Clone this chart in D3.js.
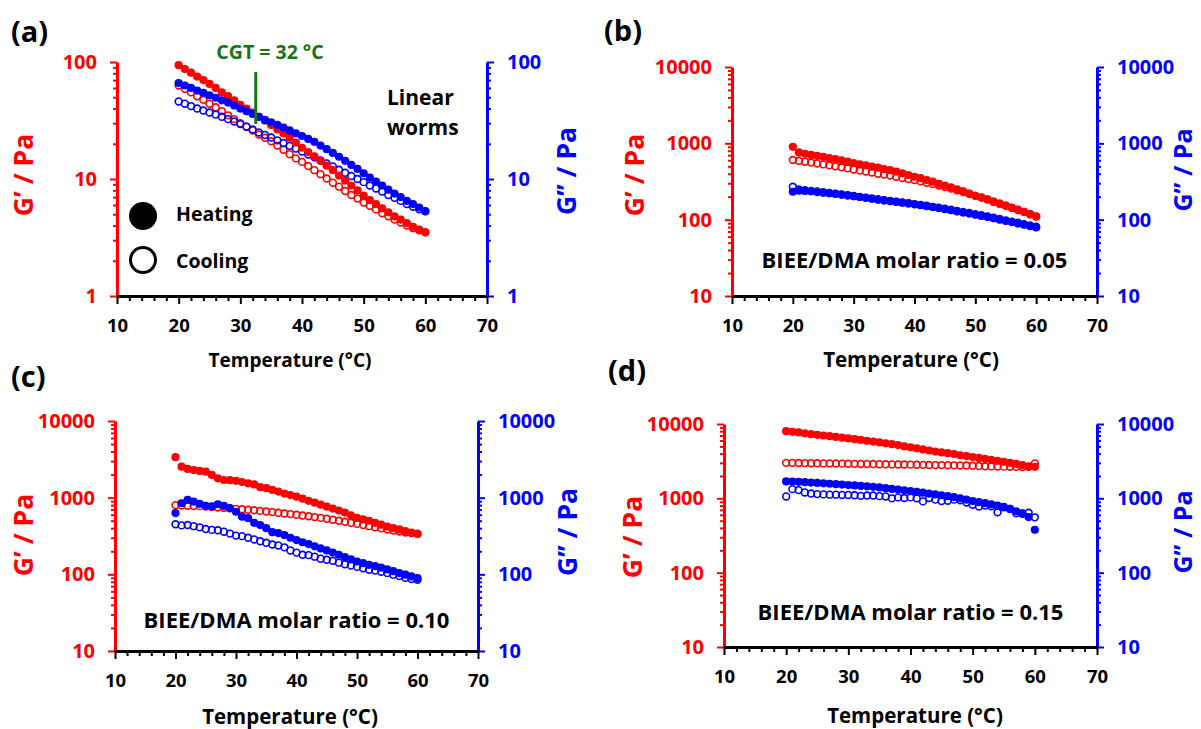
<!DOCTYPE html>
<html>
<head>
<meta charset="utf-8">
<script src="https://cdn.jsdelivr.net/npm/d3@7"></script>
<style>
  body { margin: 0; background: #fff; }
  text { font-family: "Open Sans", sans-serif; font-weight: 700; }
</style>
</head>
<body>
<div id="chart"></div>
<script>
const temps = [20, 21, 22, 23, 24, 25, 26, 27, 28, 29,
  30, 31, 32, 33, 34, 35, 36, 37, 38, 39,
  40, 41, 42, 43, 44, 45, 46, 47, 48, 49,
  50, 51, 52, 53, 54, 55, 56, 57, 58, 59, 60];

const xTicks = [10, 20, 30, 40, 50, 60, 70];
const aYTicks = [1, 10, 100];
const yTicks = [10, 100, 1000, 10000];
const cgt = 32.5;

// (a) linear worms
const aHeatG1 = [94, 87, 81, 75, 70, 65, 60, 55, 51, 47,
  43, 40, 37, 34, 31.5, 29, 26.5, 24.5, 22.5, 20.5,
  18.5, 17, 15.6, 14.3, 13, 11.9, 10.7, 9.7, 8.8, 8.0,
  7.2, 6.6, 6.1, 5.6, 5.2, 4.8, 4.5, 4.2, 3.9, 3.7, 3.5];
const aCoolG1 = [63, 59, 55, 51, 47.5, 44, 41, 38, 35, 32.5,
  30, 28, 26, 24, 22.5, 21, 19.3, 17.8, 16.3, 15,
  14, 12.9, 11.9, 11, 10.1, 9.3, 8.6, 7.9, 7.3, 6.8,
  6.3, 5.9, 5.5, 5.1, 4.8, 4.5, 4.25, 4.0, 3.8, 3.65, 3.5];
const aHeatG2 = [66, 63, 60, 57, 54.5, 52, 49.5, 47, 45, 42.5,
  40, 38, 36, 34, 32, 30.5, 29, 27.5, 26, 24.5,
  23.3, 22, 20.8, 19.3, 18, 16.7, 15.5, 14.3, 13.2, 12.2,
  11.2, 10.3, 9.5, 8.8, 8.1, 7.5, 7.0, 6.5, 6.1, 5.7, 5.3];
const aCoolG2 = [46, 44, 42, 40, 38.5, 37, 35.5, 34, 32.5, 31,
  29.5, 28, 26.5, 25, 23.8, 22.6, 21.4, 20.3, 19.2, 18.2,
  17.2, 16.2, 15.3, 14.4, 13.6, 12.8, 12.0, 11.3, 10.6, 10.0,
  9.4, 8.8, 8.3, 7.8, 7.3, 6.9, 6.5, 6.1, 5.8, 5.5, 5.3];

// (b) BIEE/DMA = 0.05
const bHeatG1 = [900, 760, 730, 705, 685, 665, 640, 620, 600, 575,
  550, 530, 515, 495, 480, 460, 445, 425, 405, 385,
  365, 350, 330, 315, 295, 280, 265, 250, 235, 220,
  205, 195, 185, 172, 162, 153, 143, 135, 127, 118, 110];
const bCoolG1 = [605, 590, 575, 560, 545, 530, 515, 500, 485, 470,
  455, 440, 428, 415, 400, 390, 378, 365, 352, 340,
  330, 318, 305, 292, 280, 267, 255, 242, 230, 218,
  205, 195, 183, 172, 162, 152, 143, 134, 126, 118, 110];
const bHeatG2 = [232, 240, 238, 235, 230, 226, 222, 218, 213, 208,
  203, 198, 193, 188, 183, 179, 175, 171, 167, 163,
  159, 155, 150, 146, 142, 137, 133, 128, 124, 120,
  116, 112, 108, 104, 100, 96, 93, 89, 86, 82, 79];
const bCoolG2 = [270, 248, 243, 238, 234, 229, 224, 219, 214, 209,
  204, 199, 194, 190, 185, 180, 176, 172, 168, 164,
  160, 156, 152, 147, 143, 139, 135, 130, 126, 122,
  118, 114, 110, 106, 102, 98, 94, 91, 87, 84, 81];

// (c) BIEE/DMA = 0.10
const cHeatG1 = [3370, 2540, 2370, 2290, 2230, 2180, 1980, 1790, 1700, 1690,
  1660, 1600, 1540, 1490, 1370, 1330, 1260, 1200, 1130, 1080,
  1030, 970, 910, 860, 810, 765, 720, 680, 640, 590,
  545, 520, 500, 470, 445, 420, 400, 385, 365, 350, 336];
const cCoolG1 = [800, 790, 785, 780, 775, 765, 755, 745, 735, 725,
  715, 705, 695, 685, 672, 660, 648, 635, 622, 610,
  598, 585, 572, 558, 545, 530, 515, 500, 485, 470,
  455, 440, 425, 412, 398, 385, 373, 362, 352, 345, 338];
const cHeatG2 = [630, 845, 935, 890, 830, 780, 770, 820, 780, 730,
  655, 565, 540, 470, 440, 400, 355, 345, 325, 300,
  280, 262, 248, 232, 218, 205, 192, 180, 168, 157,
  147, 140, 133, 128, 122, 116, 110, 104, 99, 94, 89];
const cCoolG2 = [450, 435, 440, 425, 410, 390, 380, 375, 360, 340,
  320, 315, 300, 285, 270, 258, 245, 238, 225, 205,
  192, 180, 178, 170, 160, 155, 150, 142, 135, 130,
  125, 120, 115, 112, 108, 104, 99, 95, 90, 87, 85];

// (d) BIEE/DMA = 0.15
const dHeatG1 = [8000, 7850, 7700, 7500, 7300, 7150, 7000, 6850, 6700, 6550,
  6400, 6250, 6100, 5950, 5800, 5650, 5500, 5350, 5200, 5000,
  4850, 4700, 4550, 4400, 4250, 4150, 4050, 3950, 3800, 3700,
  3600, 3500, 3400, 3300, 3200, 3100, 3000, 2900, 2800, 2700, 2650];
const dCoolG1 = [3000, 3000, 2990, 2980, 2970, 2960, 2950, 2950, 2940, 2930,
  2920, 2910, 2900, 2900, 2890, 2880, 2870, 2860, 2850, 2850,
  2840, 2830, 2820, 2810, 2800, 2800, 2790, 2780, 2770, 2760,
  2740, 2720, 2700, 2690, 2680, 2670, 2660, 2650, 2640, 2650, 2950];
const dHeatG2 = [1690, 1680, 1670, 1650, 1630, 1610, 1590, 1570, 1550, 1530,
  1510, 1490, 1470, 1450, 1430, 1400, 1370, 1340, 1310, 1280,
  1250, 1220, 1190, 1160, 1130, 1100, 1070, 1040, 1000, 960,
  920, 890, 860, 830, 800, 770, 720, 670, 630, 560, 378];
const dCoolG2 = [1060, 1330, 1290, 1200, 1160, 1140, 1130, 1120, 1120, 1110,
  1110, 1100, 1080, 1090, 1090, 1070, 1060, 1000, 1030, 1010,
  1030, 1000, 910, 1010, 960, 920, 930, 960, 940, 880,
  820, 775, 800, 780, 650, 760, 720, 630, 620, 640, 555];

const RED = '#ff0000', BLUE = '#0000ff', GREEN = '#157515';

const panels = [
  { tag: '(a)', tagX: 11, tagY: 32, left: 117, right: 487, top: 62, bottom: 296,
    yTicks: aYTicks, data: [aCoolG1, aCoolG2, aHeatG1, aHeatG2],
    lx: 24, ly: 175, rx: 567, ry: 171, rSize: 26.5, titleX: 290, titleY: 360, titleSize: 19 },
  { tag: '(b)', tagX: 604, tagY: 31, left: 732, right: 1097, top: 67, bottom: 296,
    yTicks: yTicks, data: [bCoolG1, bCoolG2, bHeatG1, bHeatG2],
    lx: 635, ly: 175, rx: 1183, ry: 170, rSize: 25, titleX: 911, titleY: 360, titleSize: 20.5,
    note: 'BIEE/DMA molar ratio = 0.05', noteY: 260 },
  { tag: '(c)', tagX: 11, tagY: 377, left: 115, right: 478, top: 421, bottom: 651,
    yTicks: yTicks, data: [cCoolG1, cCoolG2, cHeatG1, cHeatG2],
    lx: 24, ly: 535, rx: 568, ry: 532, rSize: 26.5, titleX: 290, titleY: 717, titleSize: 20.5,
    note: 'BIEE/DMA molar ratio = 0.10', noteY: 620 },
  { tag: '(d)', tagX: 608, tagY: 371, left: 724, right: 1097, top: 424, bottom: 647,
    yTicks: yTicks, data: [dCoolG1, dCoolG2, dHeatG1, dHeatG2],
    lx: 633, ly: 537, rx: 1183, ry: 532, rSize: 25, titleX: 915, titleY: 716, titleSize: 20.5,
    note: 'BIEE/DMA molar ratio = 0.15', noteY: 612 }
];

const svg = d3.select('#chart')
  .append('svg')
  .attr('width', 1201)
  .attr('height', 729)
  .style('background', '#fff');

function styleAxis(g, color, fontSize) {
  g.select('.domain').attr('stroke', color).attr('stroke-width', 3);
  g.selectAll('.tick line').attr('stroke', color).attr('stroke-width', 2);
  g.selectAll('.tick text').attr('fill', color).attr('font-size', fontSize)
    .attr('font-family', '"Open Sans", sans-serif').attr('font-weight', 700);
}

function drawPanel(p) {
  const g = svg.append('g');

  const x = d3.scaleLinear().domain([10, 70]).range([p.left, p.right]);
  const y = d3.scaleLog().domain(d3.extent(p.yTicks)).range([p.bottom, p.top]);

  const yMinor = y.ticks().filter(v => !p.yTicks.includes(v));
  const xMinor = x.ticks(30).filter(v => v % 10 !== 0);

  // left axis (G')
  g.append('g').attr('transform', `translate(${p.left},0)`)
    .call(d3.axisLeft(y).tickValues(yMinor).tickSize(4).tickFormat(''))
    .call(a => { a.select('.domain').remove(); styleAxis(a, RED, 20); });
  g.append('g').attr('transform', `translate(${p.left},0)`)
    .call(d3.axisLeft(y).tickValues(p.yTicks).tickSize(7).tickSizeOuter(0)
      .tickPadding(13).tickFormat(d3.format('d')))
    .call(a => styleAxis(a, RED, 20));

  // right axis (G'')
  g.append('g').attr('transform', `translate(${p.right},0)`)
    .call(d3.axisRight(y).tickValues(yMinor).tickSize(4).tickFormat(''))
    .call(a => { a.select('.domain').remove(); styleAxis(a, BLUE, 20); });
  g.append('g').attr('transform', `translate(${p.right},0)`)
    .call(d3.axisRight(y).tickValues(p.yTicks).tickSize(7).tickSizeOuter(0)
      .tickPadding(13).tickFormat(d3.format('d')))
    .call(a => styleAxis(a, BLUE, 20));

  // x axis
  g.append('g').attr('transform', `translate(0,${p.bottom})`)
    .call(d3.axisBottom(x).tickValues(xMinor).tickSize(5).tickFormat(''))
    .call(a => { a.select('.domain').remove(); styleAxis(a, '#000', 18.5); });
  g.append('g').attr('transform', `translate(0,${p.bottom})`)
    .call(d3.axisBottom(x).tickValues(xTicks).tickSize(8).tickSizeOuter(0)
      .tickPadding(15).tickFormat(d3.format('d')))
    .call(a => styleAxis(a, '#000', 18.5));

  // data: cooling G', cooling G'', heating G', heating G''
  const specs = [
    { color: RED, filled: false }, { color: BLUE, filled: false },
    { color: RED, filled: true }, { color: BLUE, filled: true }
  ];
  p.data.forEach((vals, i) => {
    const s = specs[i];
    g.append('g').selectAll('circle')
      .data(vals)
      .join('circle')
      .attr('cx', (d, j) => x(temps[j]))
      .attr('cy', d => y(d))
      .attr('r', s.filled ? 4.1 : 3.4)
      .attr('fill', s.filled ? s.color : 'none')
      .attr('stroke', s.color)
      .attr('stroke-width', s.filled ? 0 : 1.6);
  });

  // titles
  g.append('text').attr('transform', `translate(${p.lx},${p.ly}) rotate(-90)`)
    .attr('dy', '0.35em').attr('text-anchor', 'middle')
    .attr('font-size', 26.5).attr('fill', RED).text('G’ / Pa');
  g.append('text').attr('transform', `translate(${p.rx},${p.ry}) rotate(-90)`)
    .attr('dy', '0.35em').attr('text-anchor', 'middle')
    .attr('font-size', p.rSize).attr('fill', BLUE).text('G’’ / Pa');
  g.append('text').attr('x', p.titleX).attr('y', p.titleY)
    .attr('dy', '0.35em').attr('text-anchor', 'middle')
    .attr('font-size', p.titleSize).text('Temperature (°C)');
  g.append('text').attr('x', p.tagX).attr('y', p.tagY)
    .attr('dy', '0.35em').attr('font-size', 29).text(p.tag);

  if (p.note) {
    g.append('text').attr('x', x(40)).attr('y', p.noteY)
      .attr('dy', '0.35em').attr('text-anchor', 'middle')
      .attr('font-size', 22).text(p.note);
  }
  return { g, x, y };
}

const drawn = panels.map(drawPanel);

// extras in panel (a)
const pa = drawn[0];
pa.g.append('line')
  .attr('x1', pa.x(cgt)).attr('x2', pa.x(cgt))
  .attr('y1', 72).attr('y2', 124)
  .attr('stroke', GREEN).attr('stroke-width', 3);
pa.g.append('text').attr('x', 270).attr('y', 52).attr('dy', '0.35em')
  .attr('text-anchor', 'middle').attr('font-size', 19.5).attr('fill', GREEN)
  .text('CGT = 32 °C');
pa.g.append('text').attr('x', 387).attr('y', 98).attr('dy', '0.35em')
  .attr('font-size', 21).text('Linear');
pa.g.append('text').attr('x', 387).attr('y', 128).attr('dy', '0.35em')
  .attr('font-size', 21).text('worms');

// legend
pa.g.append('circle').attr('cx', 143).attr('cy', 216).attr('r', 14).attr('fill', '#000');
pa.g.append('circle').attr('cx', 143).attr('cy', 260).attr('r', 12.5)
  .attr('fill', 'none').attr('stroke', '#000').attr('stroke-width', 3);
pa.g.append('text').attr('x', 176).attr('y', 214).attr('dy', '0.35em')
  .attr('font-size', 19.5).text('Heating');
pa.g.append('text').attr('x', 176).attr('y', 261).attr('dy', '0.35em')
  .attr('font-size', 19.5).text('Cooling');
</script>
</body>
</html>
